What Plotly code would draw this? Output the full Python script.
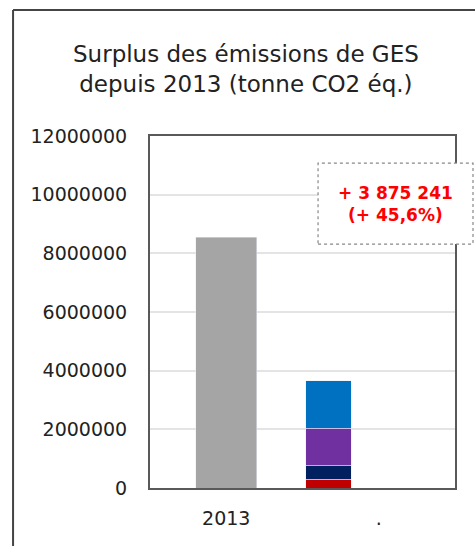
import plotly.graph_objects as go

categories = ["2013", "."]
base_2013 = [8550000]
seg_labels = ["Rouge", "Marine", "Violet", "Bleu"]
seg_values = [300000, 480000, 1250000, 1620000]
seg_colors = ["#C00000", "#002060", "#7030A0", "#0070C0"]
y_ticks = [0, 2000000, 4000000, 6000000, 8000000, 10000000, 12000000]
annot_text = "+ 3 875 241<br>(+ 45,6%)"
title_text = "Surplus des émissions de GES<br>depuis 2013 (tonne CO2 éq.)"

FONT = "DejaVu Sans, sans-serif"

fig = go.Figure()
fig.add_trace(go.Bar(x=[categories[0]], y=base_2013, marker_color="#A5A5A5",
                     width=0.4, offset=-0.2, showlegend=False))
for lab, v, c in zip(seg_labels, seg_values, seg_colors):
    fig.add_trace(go.Bar(x=[categories[1]], y=[v], name=lab, marker_color=c,
                         width=0.3, offset=-0.48, showlegend=False))

fig.update_layout(
    barmode="stack",
    width=475, height=546,
    margin=dict(l=150, r=20, t=136, b=58),
    paper_bgcolor="white", plot_bgcolor="white",
    font=dict(family=FONT, color="#222", size=17),
)
fig.update_xaxes(type="category", categoryorder="array", categoryarray=categories,
                 range=[-0.5, 1.5], showline=True, mirror=True, linecolor="#595959",
                 linewidth=2, ticks="", tickfont=dict(size=19), showgrid=False,
                 ticklabelstandoff=12, automargin=False)
fig.update_yaxes(range=[0, 12000000], tickvals=y_ticks,
                 ticktext=[str(v) for v in y_ticks], showline=True, mirror=True,
                 linecolor="#595959", linewidth=2, gridcolor="#E4E4E4", gridwidth=1.5,
                 tickfont=dict(size=19), ticks="", zeroline=False,
                 ticklabelstandoff=17, automargin=False)

fig.add_annotation(xref="paper", yref="paper", x=0.316, y=1.19, text=title_text,
                   showarrow=False, font=dict(size=23, color="#222", family=FONT),
                   align="center", xanchor="center", yanchor="middle")

fig.add_shape(type="rect", xref="paper", yref="paper", x0=0.551, x1=1.059,
              y0=0.693, y1=0.923, line=dict(color="#888", width=1.2, dash="dot"),
              fillcolor="white", layer="above")
fig.add_annotation(xref="paper", yref="paper", x=0.805, y=0.808, text="<b>" + annot_text + "</b>",
                   showarrow=False, font=dict(size=17, color="#FF0000", family=FONT),
                   align="center", xanchor="center", yanchor="middle")

# outer chart frame: left and top edges only (right/bottom fall outside the picture)
fig.add_shape(type="line", xref="paper", yref="paper", x0=-0.449, x1=-0.449,
              y0=-0.3, y1=1.358, line=dict(color="#444", width=2), layer="below")
fig.add_shape(type="line", xref="paper", yref="paper", x0=-0.449, x1=1.3,
              y0=1.358, y1=1.358, line=dict(color="#444", width=2), layer="below")

fig.write_html("out.html",
               config={"displayModeBar": False},
               post_script="document.body.style.margin='0';document.body.style.overflow='hidden';")
